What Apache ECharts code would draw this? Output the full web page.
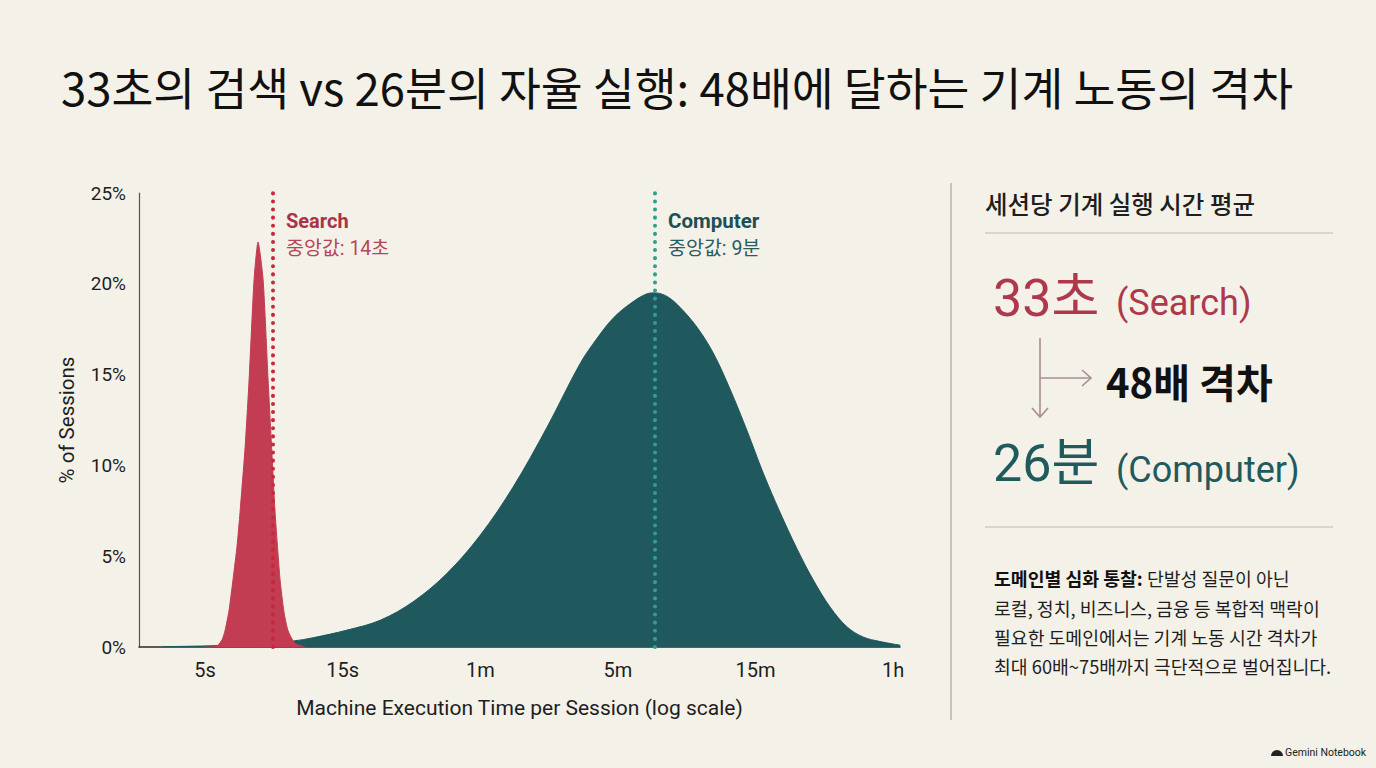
<!DOCTYPE html>
<html>
<head>
<meta charset="utf-8">
<script src="https://cdn.jsdelivr.net/npm/echarts@6/dist/echarts.min.js"></script>
<style>
html,body{margin:0;padding:0;background:#f4f1e8;}
#chart{width:1376px;height:768px;}
</style>
</head>
<body>
<div id="chart"></div>
<script>
// ---- data ----
const titleText = '33초의 검색 vs 26분의 자율 실행: 48배에 달하는 기계 노동의 격차';
const xTickPositions = [0, 1, 2, 3, 4, 5];
const xTickLabels = ['5s', '15s', '1m', '5m', '15m', '1h'];
const yTicks = [0, 5, 10, 15, 20, 25];

// positions along the (evenly spaced) log axis, in tick units; values in % of sessions
const searchX = [0.000, 0.065, 0.094, 0.124, 0.145, 0.174, 0.203, 0.233, 0.254, 0.291, 0.320, 0.356, 0.385, 0.422, 0.458, 0.487, 0.509, 0.545, 0.574, 0.603, 0.654, 0.727];
const searchY = [0.0, 0.02, 0.1, 0.4, 0.9, 2.0, 3.7, 5.6, 7.4, 11.0, 14.7, 20.2, 22.3, 20.2, 14.7, 10.5, 7.4, 3.7, 1.9, 0.9, 0.2, 0.0];

const computerX = [-0.305, 0.109, 0.400, 0.640, 0.785, 1.032, 1.272, 1.512, 1.759, 1.999, 2.238, 2.485, 2.725, 2.849, 2.965, 3.089, 3.212, 3.270, 3.358, 3.452, 3.576, 3.692, 3.815, 3.939, 4.055, 4.179, 4.302, 4.419, 4.542, 4.666, 4.782, 4.906, 5.051];
const computerY = [0.02, 0.08, 0.2, 0.33, 0.51, 0.93, 1.47, 2.49, 4.06, 6.15, 8.8, 12.1, 15.6, 17.0, 18.1, 18.9, 19.45, 19.5, 19.3, 18.7, 17.6, 16.2, 14.2, 11.9, 9.6, 7.4, 5.4, 3.7, 2.2, 1.1, 0.55, 0.3, 0.1];

const searchMedianPos = 0.494;   // 중앙값 14초
const computerMedianPos = 3.270; // 중앙값 9분

const searchName = 'Search';
const computerName = 'Computer';
const searchMedianLabel = '중앙값: 14초';
const computerMedianLabel = '중앙값: 9분';

const panelHeader = '세션당 기계 실행 시간 평균';
const searchAvg = '33초';
const computerAvg = '26분';
const gapText = '48배 격차';
const insightBold = '도메인별 심화 통찰:';
const insightLines = [' 단발성 질문이 아닌', '로컬, 정치, 비즈니스, 금융 등 복합적 맥락이', '필요한 도메인에서는 기계 노동 시간 격차가', '최대 60배~75배까지 극단적으로 벌어집니다.'];

// ---- style ----
const FONT = "Roboto, 'Noto Sans CJK KR', 'Noto Sans', sans-serif";
const KFONT = "'Noto Sans CJK KR', 'Noto Sans', sans-serif";
const RED = '#c23c52';
const RED_TEXT = '#a9344a';
const RED_LINE = '#c8283c';
const TEAL = '#1f585d';
const TEAL_TEXT = '#1d4f53';
const TEAL_LINE = '#2f9e95';
const ARROW = '#a88d94';

const zip = (xs, ys) => xs.map((x, i) => [x, ys[i]]);

const chart = echarts.init(document.getElementById('chart'), null, {renderer: 'svg'});

const option = {
  backgroundColor: '#f4f1e8',
  animation: false,
  grid: {left: 139, right: 476, top: 193, bottom: 121, containLabel: false},
  xAxis: {
    type: 'value',
    min: -0.48,
    max: 5.05,
    axisLine: {show: true, onZero: false, lineStyle: {color: '#2a2a2a', width: 1.5}},
    axisTick: {show: false},
    splitLine: {show: false},
    axisLabel: {
      customValues: xTickPositions,
      formatter: v => xTickLabels[xTickPositions.indexOf(Math.round(v))] || '',
      fontFamily: FONT, fontSize: 20, color: '#1e1e1e', margin: 13
    },
    name: 'Machine Execution Time per Session (log scale)',
    nameLocation: 'middle',
    nameGap: 50,
    nameTextStyle: {fontFamily: FONT, fontSize: 21, color: '#1e1e1e'}
  },
  yAxis: {
    type: 'value',
    min: 0, max: 25, interval: 5,
    axisLine: {show: true, onZero: false, lineStyle: {color: '#555', width: 1.2}},
    axisTick: {show: false},
    splitLine: {show: false},
    axisLabel: {formatter: '{value}%', fontFamily: FONT, fontSize: 19, color: '#1e1e1e', margin: 13},
    name: '% of Sessions',
    nameLocation: 'middle',
    nameGap: 62,
    nameRotate: 90,
    nameTextStyle: {fontFamily: FONT, fontSize: 20.5, color: '#1e1e1e'}
  },
  series: [
    {
      name: computerName,
      type: 'line',
      data: zip(computerX, computerY),
      smooth: 0.35,
      showSymbol: false,
      lineStyle: {color: TEAL, width: 1},
      areaStyle: {color: TEAL, opacity: 1},
      z: 2,
      markLine: {
        silent: true,
        symbol: ['none', 'none'],
        label: {show: false},
        lineStyle: {color: TEAL_LINE, type: [0.1, 8], width: 4, cap: 'round'},
        data: [[{coord: [computerMedianPos, 0]}, {coord: [computerMedianPos, 25]}]],
        z: 5
      }
    },
    {
      name: searchName,
      type: 'line',
      data: zip(searchX, searchY),
      smooth: 0.2,
      showSymbol: false,
      lineStyle: {color: RED, width: 1},
      areaStyle: {color: RED, opacity: 1},
      z: 3,
      markLine: {
        silent: true,
        symbol: ['none', 'none'],
        label: {show: false},
        lineStyle: {color: RED_LINE, type: [0.1, 8], width: 4, cap: 'round'},
        data: [[{coord: [searchMedianPos, 0]}, {coord: [searchMedianPos, 25]}]],
        z: 5
      }
    }
  ],
  graphic: [
    // title
    {type: 'text', x: 61, y: 86, style: {text: titleText, fontFamily: KFONT, fontSize: 45.5, fontWeight: 400, fill: '#111', textVerticalAlign: 'middle'}},
    // chart annotations
    {type: 'text', left: 286, top: 211, style: {text: searchName, fontFamily: FONT, fontSize: 20, fontWeight: 'bold', fill: RED_TEXT}},
    {type: 'text', left: 286, top: 239, style: {text: searchMedianLabel, fontFamily: FONT, fontSize: 19.5, fill: '#b4465a'}},
    {type: 'text', left: 668, top: 211, style: {text: computerName, fontFamily: FONT, fontSize: 20.5, fontWeight: 'bold', fill: TEAL_TEXT}},
    {type: 'text', left: 668, top: 239, style: {text: computerMedianLabel, fontFamily: FONT, fontSize: 19.5, fill: '#2b5d60'}},
    // right panel
    {type: 'line', shape: {x1: 951, y1: 183, x2: 951, y2: 720}, style: {stroke: '#a9a6a0', lineWidth: 1.2}},
    {type: 'text', x: 985, y: 203, style: {text: panelHeader, fontFamily: KFONT, fontSize: 24.5, fontWeight: 500, fill: '#1e1e1e', textVerticalAlign: 'middle'}},
    {type: 'line', shape: {x1: 985, y1: 233, x2: 1333, y2: 233}, style: {stroke: '#bdbab3', lineWidth: 1}},
    {type: 'text', x: 993, y: 298, style: {text: searchAvg, fontFamily: FONT, fontSize: 52, fill: '#b0384d', textVerticalAlign: 'middle'}},
    {type: 'text', x: 1116, y: 303, style: {text: '(Search)', fontFamily: FONT, fontSize: 36, fill: '#b0384d', textVerticalAlign: 'middle'}},
    {type: 'polyline', shape: {points: [[1040, 338], [1040, 417]]}, style: {stroke: ARROW, lineWidth: 1.6, fill: null}},
    {type: 'polyline', shape: {points: [[1032, 408], [1040, 417], [1048, 408]]}, style: {stroke: ARROW, lineWidth: 1.6, fill: null}},
    {type: 'polyline', shape: {points: [[1040, 378], [1091, 378]]}, style: {stroke: ARROW, lineWidth: 1.6, fill: null}},
    {type: 'polyline', shape: {points: [[1082, 370], [1091, 378], [1082, 386]]}, style: {stroke: ARROW, lineWidth: 1.6, fill: null}},
    {type: 'text', x: 1106, y: 381, style: {text: gapText, fontFamily: KFONT, fontSize: 40, fontWeight: 'bold', fill: '#111', textVerticalAlign: 'middle'}},
    {type: 'text', x: 993, y: 463, style: {text: computerAvg, fontFamily: FONT, fontSize: 52, fill: '#1f5a5c', textVerticalAlign: 'middle'}},
    {type: 'text', x: 1116, y: 470, style: {text: '(Computer)', fontFamily: FONT, fontSize: 36, fill: '#1f5a5c', textVerticalAlign: 'middle'}},
    {type: 'line', shape: {x1: 985, y1: 527, x2: 1333, y2: 527}, style: {stroke: '#bdbab3', lineWidth: 1}},
    {type: 'text', x: 994, y: 578, style: {
      text: '{b|' + insightBold + '}{n|' + insightLines[0] + '}',
      textVerticalAlign: 'middle',
      rich: {
        b: {fontFamily: KFONT, fontSize: 18.3, fontWeight: 'bold', fill: '#111'},
        n: {fontFamily: KFONT, fontSize: 18.3, fill: '#1e1e1e'}
      }
    }},
    {type: 'text', x: 994, y: 608, style: {text: insightLines[1], fontFamily: KFONT, fontSize: 18.3, fill: '#1e1e1e', textVerticalAlign: 'middle'}},
    {type: 'text', x: 994, y: 637, style: {text: insightLines[2], fontFamily: KFONT, fontSize: 18.3, fill: '#1e1e1e', textVerticalAlign: 'middle'}},
    {type: 'text', x: 994, y: 666, style: {text: insightLines[3], fontFamily: KFONT, fontSize: 18.3, fill: '#1e1e1e', textVerticalAlign: 'middle'}},
    // footer mark
    {type: 'sector', shape: {cx: 1277, cy: 756, r0: 0, r: 6, startAngle: Math.PI, endAngle: Math.PI * 2}, style: {fill: '#222'}},
    {type: 'text', x: 1285, y: 752, style: {text: 'Gemini Notebook', fontFamily: FONT, fontSize: 10.5, fill: '#222', textVerticalAlign: 'middle'}}
  ]
};

chart.setOption(option);
</script>
</body>
</html>
